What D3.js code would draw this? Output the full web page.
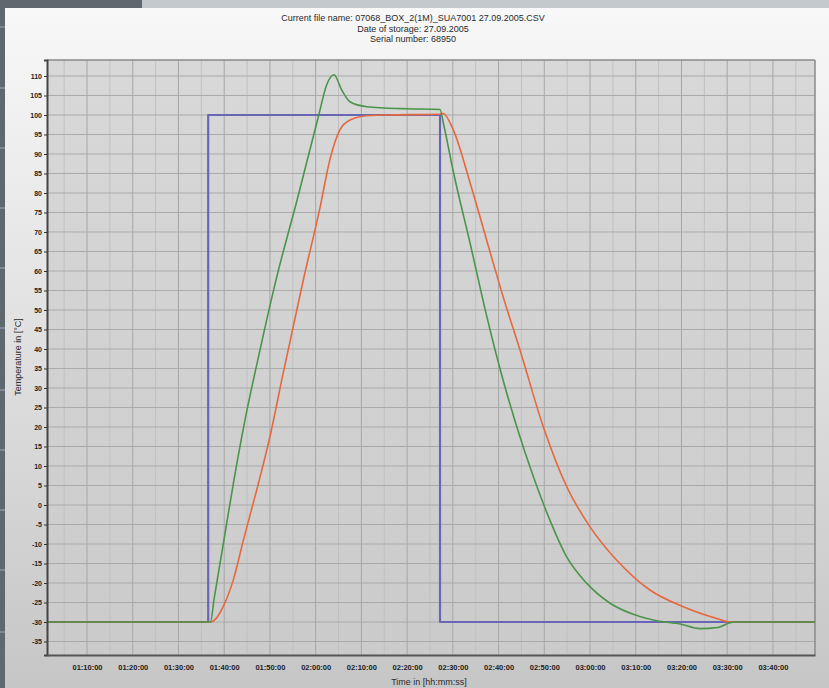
<!DOCTYPE html>
<html>
<head>
<meta charset="utf-8">
<script src="https://cdn.jsdelivr.net/npm/d3@7"></script>
<style>
	body { margin: 0; background: #c9cdd1; }
	svg { display: block; font-family: "Liberation Sans", Arial, sans-serif; }
</style>
</head>
<body>
<svg id="chart" width="829" height="688"></svg>
<script>
//Recorded chamber test: setpoint (blue), air probe (green), product probe (red)
//Time values are minutes since 00:00:00

const TITLE_LINES = ["Current file name: 07068_BOX_2(1M)_SUA7001 27.09.2005.CSV", "Date of storage: 27.09.2005", "Serial number: 68950"];
const X_TICKS = [70, 80, 90, 100, 110, 120, 130, 140, 150, 160, 170, 180, 190, 200, 210, 220];
const X_TICK_LABELS = ["01:10:00", "01:20:00", "01:30:00", "01:40:00", "01:50:00", "02:00:00", "02:10:00", "02:20:00", "02:30:00", "02:40:00", "02:50:00", "03:00:00", "03:10:00", "03:20:00", "03:30:00", "03:40:00"];
const Y_TICKS = [110, 105, 100, 95, 90, 85, 80, 75, 70, 65, 60, 55, 50, 45, 40, 35, 30, 25, 20, 15, 10, 5, 0, -5, -10, -15, -20, -25, -30, -35];

const SETPOINT_T = [61.25, 96.5, 96.5, 147.2, 147.2, 229.2];
const SETPOINT_V = [-30, -30, 100, 100, -30, -30];

const AIR_T = [61.25, 97.0, 97.8, 99.8, 102.0, 104.5, 107.5, 111.5, 115.9, 120.6, 122.4, 124.0, 125.7, 127.5, 131.2, 135.0, 140.0, 147.2, 148.0, 150.1, 153.8, 157.4, 160.3, 164.0, 167.6, 171.2, 174.9, 179.3, 184.4, 190.9, 194.6, 199.7, 204.0, 208.0, 210.6, 212.0, 229.2];
const AIR_V = [-30, -30, -24, -10, 5.5, 21.5, 38, 58.5, 78, 99.6, 107.7, 110.3, 106.4, 103.4, 102.1, 101.8, 101.6, 101.4, 97.5, 85.5, 67, 48.5, 35.0, 20, 7.3, -3.8, -13.3, -20.1, -25.2, -28.6, -29.7, -30.5, -31.7, -31.4, -30.2, -30, -30];

const PRODUCT_T = [61.25, 97.0, 98.3, 99.8, 102.0, 104.2, 107.1, 110.0, 112.9, 117.3, 121.0, 123.1, 125.3, 127.5, 131.2, 135.0, 147.2, 147.9, 150.1, 153.8, 157.4, 161.0, 164.7, 169.8, 174.9, 180.0, 185.8, 193.1, 200.4, 207.7, 210.6, 229.2];
const PRODUCT_V = [-30, -30, -29, -26, -19.2, -9, 3.8, 17.5, 33.8, 57.7, 76.5, 88.5, 96.2, 98.7, 99.8, 100, 100.2, 100.4, 96.2, 82.5, 67.9, 53.4, 39.7, 20, 4.7, -5.6, -14.1, -21.8, -26.1, -29.1, -30, -30];

const PLOT_LEFT = 47;
const PLOT_RIGHT = 815;
const PLOT_TOP = 60;
const PLOT_BOTTOM = 655;

const svg = d3.select("#chart");
const defs = svg.append("defs");

//Gradients for the window panel and the plot area
const panel_grad = defs.append("linearGradient").attr("id", "panel_grad").attr("x1", 0).attr("y1", 0).attr("x2", 0).attr("y2", 1);
panel_grad.append("stop").attr("offset", "0%").attr("stop-color", "#f8f8f8");
panel_grad.append("stop").attr("offset", "45%").attr("stop-color", "#e2e2e2");
panel_grad.append("stop").attr("offset", "100%").attr("stop-color", "#c6c6c6");
const plot_grad = defs.append("linearGradient").attr("id", "plot_grad").attr("x1", 0).attr("y1", 0).attr("x2", 0).attr("y2", 1);
plot_grad.append("stop").attr("offset", "0%").attr("stop-color", "#d8d8d8");
plot_grad.append("stop").attr("offset", "100%").attr("stop-color", "#cbcbcb");

//Window frame around the chart
svg.append("rect").attr("x", 0).attr("y", 0).attr("width", 829).attr("height", 8).attr("fill", "#c4c9ce");
svg.append("rect").attr("x", 0).attr("y", 0).attr("width", 142).attr("height", 8).attr("fill", "#5f676f");
svg.append("rect").attr("x", 0).attr("y", 0).attr("width", 5).attr("height", 688).attr("fill", "#5f676f");
svg.selectAll(".sep").data([27, 88, 148, 208, 268, 328, 390, 450, 510, 570, 632]).enter()
	.append("line").attr("class", "sep")
	.attr("x1", 0).attr("x2", 6).attr("y1", d => d).attr("y2", d => d)
	.attr("stroke", "#a4aab0").attr("stroke-width", 1);
svg.append("rect").attr("x", 5).attr("y", 8).attr("width", 824).attr("height", 680).attr("fill", "url(#panel_grad)");

//Scales
const x = d3.scaleLinear().domain([61.25, 229.2]).range([PLOT_LEFT, PLOT_RIGHT]);
const y = d3.scaleLinear().domain([-38.46, 114.1]).range([PLOT_BOTTOM, PLOT_TOP]);

svg.append("rect")
	.attr("x", PLOT_LEFT).attr("y", PLOT_TOP)
	.attr("width", PLOT_RIGHT - PLOT_LEFT).attr("height", PLOT_BOTTOM - PLOT_TOP)
	.attr("fill", "url(#plot_grad)");

//Minor vertical grid every 5 minutes
const minor_ticks = X_TICKS.map(t => t - 5).concat([225]);
svg.selectAll(".vminor").data(minor_ticks).enter()
	.append("line").attr("class", "vminor")
	.attr("x1", d => x(d)).attr("x2", d => x(d))
	.attr("y1", PLOT_TOP).attr("y2", PLOT_BOTTOM)
	.attr("stroke", "#c0c0c0").attr("stroke-width", 1);

//Major grid
svg.selectAll(".vgrid").data(X_TICKS).enter()
	.append("line").attr("class", "vgrid")
	.attr("x1", d => x(d)).attr("x2", d => x(d))
	.attr("y1", PLOT_TOP).attr("y2", PLOT_BOTTOM)
	.attr("stroke", "#a6a6a6").attr("stroke-width", 1);
svg.selectAll(".hgrid").data(Y_TICKS).enter()
	.append("line").attr("class", "hgrid")
	.attr("x1", PLOT_LEFT).attr("x2", PLOT_RIGHT)
	.attr("y1", d => y(d)).attr("y2", d => y(d))
	.attr("stroke", "#aaaaaa").attr("stroke-width", 1);

//Frame: top and right light, left and bottom dark
svg.append("line").attr("x1", PLOT_LEFT).attr("x2", PLOT_RIGHT).attr("y1", PLOT_TOP).attr("y2", PLOT_TOP).attr("stroke", "#8a8a8a").attr("stroke-width", 1.5);
svg.append("line").attr("x1", PLOT_RIGHT).attr("x2", PLOT_RIGHT).attr("y1", PLOT_TOP).attr("y2", PLOT_BOTTOM).attr("stroke", "#8a8a8a").attr("stroke-width", 1.5);

//Series
const series = [
	{ t: SETPOINT_T, v: SETPOINT_V, color: "#6a66b6", width: 2.2, curve: d3.curveLinear },
	{ t: PRODUCT_T, v: PRODUCT_V, color: "#e5683f", width: 1.6, curve: d3.curveMonotoneX },
	{ t: AIR_T, v: AIR_V, color: "#4a954a", width: 1.6, curve: d3.curveMonotoneX }
];
for (const s of series)
{
	const pts = s.t.map((t, i) => [t, s.v[i]]);
	const line = d3.line().x(d => x(d[0])).y(d => y(d[1])).curve(s.curve);
	svg.append("path")
		.attr("d", line(pts))
		.attr("fill", "none")
		.attr("stroke", s.color)
		.attr("stroke-width", s.width)
		.attr("stroke-linejoin", "round");
}

//Axes
const y_axis = d3.axisLeft(y).tickValues(Y_TICKS).tickSize(3).tickPadding(2).tickFormat(d => d);
const gy = svg.append("g").attr("transform", "translate(" + PLOT_LEFT + ",0)").call(y_axis);
gy.select(".domain").attr("stroke", "#444").attr("stroke-width", 2);
gy.selectAll("line").attr("stroke", "#333");
gy.selectAll("text").attr("font-size", 7).attr("font-weight", "bold").attr("fill", "#222");

const x_axis = d3.axisBottom(x).tickValues(X_TICKS).tickSize(0).tickPadding(10).tickFormat((d, i) => X_TICK_LABELS[i]);
const gx = svg.append("g").attr("transform", "translate(0," + PLOT_BOTTOM + ")").call(x_axis);
gx.select(".domain").attr("stroke", "#555").attr("stroke-width", 2);
gx.selectAll("text").attr("font-size", 7.5).attr("font-weight", "bold").attr("fill", "#1e1e1e");

//Titles
svg.selectAll(".title").data(TITLE_LINES).enter()
	.append("text").attr("class", "title")
	.attr("x", 413).attr("y", (d, i) => 21 + i * 10.5)
	.attr("text-anchor", "middle")
	.attr("font-size", 9)
	.attr("fill", "#2a2a2a")
	.text(d => d);

svg.append("text")
	.attr("x", 429).attr("y", 685)
	.attr("text-anchor", "middle")
	.attr("font-size", 9)
	.attr("fill", "#2a2a2a")
	.text("Time in [hh:mm:ss]");

svg.append("text")
	.attr("transform", "translate(21,357) rotate(-90)")
	.attr("text-anchor", "middle")
	.attr("font-size", 9)
	.attr("fill", "#2a2a2a")
	.text("Temperature in [°C]");
</script>
</body>
</html>
